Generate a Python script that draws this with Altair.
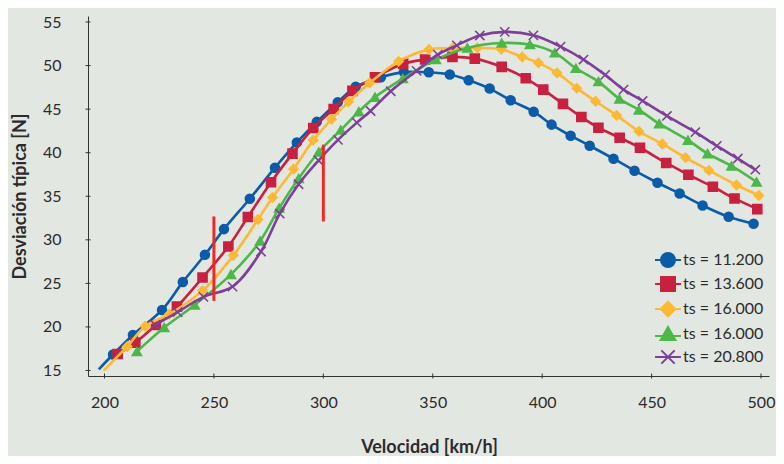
import altair as alt
import pandas as pd

# ---------------- data ----------------
series_keys = ["s1", "s2", "s3", "s4", "s5"]
series_labels = ["ts = 11.200", "ts = 13.600", "ts = 16.000", "ts = 16.000", "ts = 20.800"]

blue_x = [203.9, 213.0, 226.3, 235.8, 245.9, 254.6, 266.4, 277.9, 287.9, 297.0, 306.6, 314.8, 326.3, 336.8, 348.2,
          357.8, 366.4, 376.0, 385.6, 396.1, 404.3, 413.0, 421.7, 432.6, 442.2, 452.7, 462.8, 473.3, 485.2, 496.6]
blue_y = [16.84, 19.08, 21.95, 25.17, 28.28, 31.23, 34.71, 38.28, 41.18, 43.54, 45.80, 47.56, 48.66, 49.25, 49.23,
          48.97, 48.31, 47.36, 46.01, 44.71, 43.22, 41.95, 40.80, 39.31, 37.93, 36.55, 35.32, 33.94, 32.64, 31.84]

red_x = [206.0, 214.1, 223.5, 233.1, 244.8, 256.6, 265.5, 276.1, 285.9, 295.4, 304.7, 313.3, 323.6, 336.5, 346.5,
         359.0, 369.2, 381.5, 392.5, 400.5, 409.5, 417.9, 425.7, 435.4, 444.7, 456.7, 466.8, 478.0, 487.9, 498.3]
red_y = [16.90, 18.20, 20.23, 22.33, 25.67, 29.23, 32.62, 36.61, 39.89, 42.84, 45.02, 47.09, 48.64, 50.20, 50.69,
         51.00, 50.80, 49.85, 48.54, 47.24, 45.60, 44.10, 42.87, 41.72, 40.57, 38.82, 37.47, 36.09, 34.75, 33.53]

yellow_x = [210.4, 218.6, 229.6, 244.8, 258.9, 270.1, 276.8, 286.4, 295.4, 303.7, 311.5, 321.2, 334.4, 348.3, 359.1,
            370.4, 381.3, 390.9, 398.3, 406.8, 415.8, 424.4, 434.0, 444.2, 454.9, 465.5, 476.2, 488.8, 499.0]
yellow_y = [17.76, 20.08, 21.46, 24.17, 28.22, 32.33, 34.86, 38.13, 41.44, 43.83, 45.84, 48.01, 50.49, 51.84, 51.99,
            52.03, 51.87, 50.98, 50.31, 49.16, 47.41, 45.90, 44.29, 42.45, 41.00, 39.43, 37.97, 36.29, 35.09]

green_x = [214.8, 227.3, 241.2, 257.8, 271.1, 279.8, 288.7, 297.9, 308.0, 316.2, 323.6, 336.3, 351.4, 365.8, 381.5,
           394.4, 405.8, 415.4, 425.7, 435.3, 444.2, 453.5, 466.6, 475.6, 486.5, 498.0]
green_y = [17.18, 19.94, 22.53, 26.03, 29.86, 33.64, 37.03, 40.08, 42.61, 44.71, 46.38, 48.51, 50.69, 52.03, 52.59,
           52.41, 51.46, 49.69, 48.16, 46.17, 44.91, 43.33, 41.44, 39.89, 38.48, 36.64]

purple_x = [223.2, 233.4, 245.2, 258.5, 271.5, 280.1, 288.7, 297.8, 306.7, 315.3, 321.6, 330.8, 342.6, 352.3, 361.0,
            371.5, 382.9, 396.0, 408.4, 418.9, 428.8, 437.2, 445.9, 457.0, 470.0, 479.8, 489.4, 497.4]
purple_y = [20.23, 21.70, 23.45, 24.63, 28.66, 33.01, 36.38, 39.10, 41.47, 43.45, 44.79, 47.05, 49.40, 51.26, 52.32,
            53.45, 53.87, 53.47, 52.18, 50.69, 48.93, 47.24, 45.94, 44.22, 42.36, 40.78, 39.33, 38.05]

# line segments that run in from the bottom edge without a marker
blue_lead_x, blue_lead_y = [197.4], [15.14]
yellow_lead_x, yellow_lead_y = [199.6], [14.98]

# red vertical markers
rule_x = [250, 300]
rule_y_low = [22.99, 32.10]
rule_y_high = [32.68, 40.92]

x_ticks = [200, 250, 300, 350, 400, 450, 500]
y_ticks = [15, 20, 25, 30, 35, 40, 45, 50, 55]

# ---------------- styling ----------------
colors = ["#0A5BA8", "#C8203F", "#FDB933", "#4DB748", "#7E3F98"]
shapes = ["circle", "square", "diamond", "triangle-up", "M-1,-1L1,1M-1,1L1,-1"]
sizes = [80, 85, 120, 130, 110]
legend_paths = [
    "M-1.85,0H1.85M1,0A1,1 0 1,1 -1,0A1,1 0 1,1 1,0Z",
    "M-1.85,0H1.85M-1,-1H1V1H-1Z",
    "M-1.85,0H1.85M0,-1.05L1.05,0L0,1.05L-1.05,0Z",
    "M-1.85,0.3H1.85M0,-1L1.05,0.85L-1.05,0.85Z",
    "M-1.85,0H1.85M-0.95,-0.95L0.95,0.95M-0.95,0.95L0.95,-0.95",
]
FONT = "Lato"
TXT = "#2b2b2b"
X_MIN, X_MAX = 192.46, 503.65
Y_MIN, Y_MAX = 14.37, 55.69

series = [
    (blue_x, blue_y, blue_lead_x, blue_lead_y),
    (red_x, red_y, [], []),
    (yellow_x, yellow_y, yellow_lead_x, yellow_lead_y),
    (green_x, green_y, [], []),
    (purple_x, purple_y, [], []),
]

xs = alt.Scale(domain=[X_MIN, X_MAX], nice=False, zero=False)
ys = alt.Scale(domain=[Y_MIN, Y_MAX], nice=False, zero=False)
cscale = alt.Scale(domain=series_keys, range=colors)
shscale = alt.Scale(domain=series_keys, range=shapes)
legshscale = alt.Scale(domain=series_keys, range=legend_paths)
szscale = alt.Scale(domain=series_keys, range=sizes)

x_axis = alt.Axis(values=x_ticks, title="Velocidad [km/h]", ticks=False, tickSize=0, grid=False,
                  domainColor="#333333", domainWidth=1, labelPadding=18, labelFontSize=16, labelFont=FONT,
                  labelColor=TXT, labelFlush=False, titleFont=FONT, titleFontSize=18, titleFontWeight="bold",
                  titleColor=TXT, titleX=341, titleY=71, titleBaseline="middle", titleAlign="center")
y_axis = alt.Axis(values=y_ticks, title="Desviación típica [N]", ticks=False, tickSize=0, grid=False,
                  domainColor="#333333", domainWidth=1, labelPadding=27, labelFontSize=16, labelFont=FONT,
                  labelColor=TXT, labelFlush=False, titleFont=FONT, titleFontSize=18, titleFontWeight="bold",
                  titleColor=TXT, titleX=-68, titleY=180, titleBaseline="middle", titleAlign="center",
                  titleAngle=-90)

label_expr = " : ".join(f"datum.value == '{k}' ? '{l}'" for k, l in zip(series_keys, series_labels[:-1])) \
    + f" : '{series_labels[-1]}'"

legend = alt.Legend(title=None, orient="none", legendX=572, legendY=236, padding=0,
                    labelExpr=label_expr, labelFont=FONT, labelFontSize=16, labelColor=TXT,
                    labelOffset=7, rowPadding=2, symbolSize=196, symbolStrokeWidth=2, symbolOpacity=1)

layers = []
for i, (k, (sx, sy, lx, ly)) in enumerate(zip(series_keys, series)):
    df_line = pd.DataFrame({"x": lx + sx, "y": ly + sy, "s": k})
    df_pts = pd.DataFrame({"x": sx, "y": sy, "s": k})
    line = alt.Chart(df_line).mark_line(interpolate="catmull-rom", strokeWidth=2.6, color=colors[i]).encode(
        x=alt.X("x:Q", scale=xs, axis=x_axis),
        y=alt.Y("y:Q", scale=ys, axis=y_axis),
        order="x:Q",
    )
    pts = alt.Chart(df_pts).mark_point(filled=True, opacity=1, strokeWidth=1.6).encode(
        x=alt.X("x:Q", scale=xs, axis=x_axis),
        y=alt.Y("y:Q", scale=ys, axis=y_axis),
        fill=alt.Fill("s:N", scale=cscale, legend=None),
        stroke=alt.Stroke("s:N", scale=cscale, legend=None),
        shape=alt.Shape("s:N", scale=shscale, legend=None),
        size=alt.Size("s:N", scale=szscale, legend=None),
    )
    layers += [line, pts]

# invisible layer that only supplies the legend symbols (marker with a line through it)
df_leg = pd.DataFrame({"x": [b[0][0] for b in series], "y": [b[1][0] for b in series], "s": series_keys})
leg_layer = alt.Chart(df_leg).mark_point(filled=True, opacity=0, strokeWidth=2).encode(
    x=alt.X("x:Q", scale=xs, axis=x_axis),
    y=alt.Y("y:Q", scale=ys, axis=y_axis),
    fill=alt.Fill("s:N", scale=cscale, legend=legend),
    stroke=alt.Stroke("s:N", scale=cscale, legend=legend),
    shape=alt.Shape("s:N", scale=legshscale, legend=legend),
)

rules_df = pd.DataFrame({"x": rule_x, "y1": rule_y_low, "y2": rule_y_high})
rules = alt.Chart(rules_df).mark_rule(color="#EE2A24", strokeWidth=3).encode(
    x=alt.X("x:Q", scale=xs, axis=x_axis),
    y=alt.Y("y1:Q", scale=ys, axis=y_axis),
    y2="y2:Q",
)

xt = alt.Chart(pd.DataFrame({"v": x_ticks})).mark_rule(color="#333333", strokeWidth=1, yOffset=-2.5,
                                                        y2Offset=2.5).encode(
    x=alt.X("v:Q", scale=xs, axis=x_axis),
    y=alt.datum(Y_MIN),
    y2=alt.datum(Y_MIN),
)
yt = alt.Chart(pd.DataFrame({"v": y_ticks})).mark_rule(color="#333333", strokeWidth=1, xOffset=-2.5,
                                                        x2Offset=2.5).encode(
    y=alt.Y("v:Q", scale=ys, axis=y_axis),
    x=alt.datum(X_MIN),
    x2=alt.datum(X_MIN),
)

chart = alt.layer(xt, yt, *layers, rules, leg_layer).resolve_scale(
    shape="independent", fill="independent", stroke="independent", size="independent"
).properties(
    width=681, height=360,
    autosize=alt.AutoSizeParams(type="none"),
    padding={"left": 80, "top": 8, "right": 7, "bottom": 80},
    background="#E3E7E2",
).configure_view(stroke=None)

chart.save("out.html", embed_options={"renderer": "svg", "actions": False})
